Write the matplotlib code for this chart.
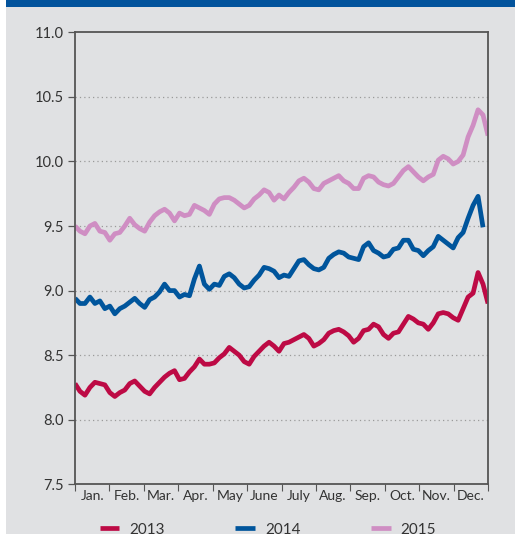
import numpy as np
import matplotlib
matplotlib.use("Agg")
import matplotlib.pyplot as plt
from matplotlib.patches import Rectangle

months = ["Jan.", "Feb.", "Mar.", "Apr.", "May", "June", "July", "Aug.", "Sep.", "Oct.", "Nov.", "Dec."]
y_ticks = [7.5, 8.0, 8.5, 9.0, 9.5, 10.0, 10.5, 11.0]
series_names = ["2013", "2014", "2015"]

v2013 = [8.28, 8.22, 8.19, 8.25, 8.29, 8.28, 8.27, 8.21, 8.18, 8.21,
         8.23, 8.28, 8.30, 8.26, 8.22, 8.20, 8.25, 8.29, 8.33, 8.36,
         8.38, 8.31, 8.32, 8.37, 8.41, 8.47, 8.43, 8.43, 8.44, 8.48,
         8.51, 8.56, 8.53, 8.50, 8.45, 8.43, 8.49, 8.53, 8.57, 8.60,
         8.57, 8.53, 8.59, 8.60, 8.62, 8.64, 8.66, 8.63, 8.57, 8.59,
         8.62, 8.67, 8.69, 8.70, 8.68, 8.65, 8.60, 8.63, 8.69, 8.70,
         8.74, 8.72, 8.66, 8.63, 8.67, 8.68, 8.74, 8.80, 8.78, 8.75,
         8.74, 8.70, 8.75, 8.82, 8.83, 8.82, 8.79, 8.77, 8.86, 8.95,
         8.98, 9.14, 9.05, 8.90]
v2014 = [8.94, 8.90, 8.90, 8.95, 8.90, 8.92, 8.86, 8.88, 8.82, 8.86,
         8.88, 8.91, 8.94, 8.90, 8.87, 8.93, 8.95, 8.99, 9.05, 9.00,
         9.00, 8.95, 8.97, 8.96, 9.09, 9.19, 9.05, 9.01, 9.05, 9.04,
         9.11, 9.13, 9.10, 9.05, 9.02, 9.03, 9.08, 9.12, 9.18, 9.17,
         9.15, 9.10, 9.12, 9.11, 9.17, 9.23, 9.24, 9.20, 9.17, 9.16,
         9.18, 9.25, 9.28, 9.30, 9.29, 9.26, 9.25, 9.24, 9.34, 9.37,
         9.31, 9.29, 9.26, 9.27, 9.32, 9.33, 9.39, 9.39, 9.32, 9.31,
         9.27, 9.31, 9.34, 9.42, 9.39, 9.36, 9.33, 9.41, 9.45, 9.56,
         9.66, 9.73, 9.49, np.nan]
v2015 = [9.50, 9.46, 9.44, 9.50, 9.52, 9.46, 9.45, 9.39, 9.44, 9.45,
         9.50, 9.56, 9.51, 9.48, 9.46, 9.53, 9.58, 9.61, 9.63, 9.60,
         9.54, 9.60, 9.58, 9.59, 9.66, 9.64, 9.62, 9.59, 9.67, 9.71,
         9.72, 9.72, 9.70, 9.67, 9.64, 9.66, 9.71, 9.74, 9.78, 9.76,
         9.70, 9.74, 9.71, 9.76, 9.80, 9.85, 9.87, 9.84, 9.79, 9.78,
         9.83, 9.85, 9.87, 9.89, 9.85, 9.83, 9.79, 9.79, 9.87, 9.89,
         9.88, 9.84, 9.82, 9.81, 9.83, 9.88, 9.93, 9.96, 9.92, 9.88,
         9.85, 9.88, 9.90, 10.01, 10.04, 10.02, 9.98, 10.00, 10.05, 10.19,
         10.28, 10.40, 10.36, 10.20]

colors = ["#bd0a45", "#00559c", "#cf8ec3"]
bg = "#e0e1e3"

plt.rcParams['font.family'] = ['Lato', 'DejaVu Sans']

fig = plt.figure(figsize=(5.15, 5.34), dpi=100)
fig.patch.set_facecolor("white")
fig.patches.append(Rectangle((6/515, 0), 1, 1, transform=fig.transFigure,
                             facecolor=bg, edgecolor="none", zorder=-10))
fig.patches.append(Rectangle((6/515, 1 - 7/534), 1, 7/534, transform=fig.transFigure,
                             facecolor="#02539c", edgecolor="none", zorder=-9))

ax = fig.add_axes([75/515, 1 - 484.3/534, 413/515, 452/534])
ax.set_facecolor(bg)

n = len(v2015)
x = np.linspace(0, 12, n)
for vals, c, name in zip([v2013, v2014, v2015], colors, series_names):
    ax.plot(x, vals, color=c, lw=3.4, label=name, solid_joinstyle="round",
            solid_capstyle="butt")

ax.set_xlim(0, 12)
ax.set_ylim(7.5, 11.0)
ax.set_yticks(y_ticks)
ax.set_yticklabels([f"{v:.1f}" for v in y_ticks], fontsize=10.5, color="#333333")
ax.set_xticks(np.arange(13), minor=True)
ax.set_xticks(np.arange(12) + 0.5)
ax.set_xticklabels(months, fontsize=10, color="#333333")
ax.tick_params(axis="x", which="major", length=0, pad=4)
ax.tick_params(axis="x", which="minor", length=5, width=0.8, color="#555555", direction="out")
ax.tick_params(axis="y", length=5, width=0.9, color="#555555", direction="out", pad=3)

for yv in y_ticks[1:-1]:
    ax.axhline(yv, color="#9a9a9a", lw=0.9, ls=(0, (1, 2.5)), zorder=0)

for s in ax.spines.values():
    s.set_color("#555555")
    s.set_linewidth(1.3)

leg = fig.legend(loc="center", bbox_to_anchor=(0.52, 0.008), ncol=3, frameon=False,
                 fontsize=11, handlelength=1.3, columnspacing=4.6, handletextpad=0.65)
for t in leg.get_texts():
    t.set_color("#333333")

fig.savefig("out.png", dpi=100, facecolor=fig.get_facecolor())
